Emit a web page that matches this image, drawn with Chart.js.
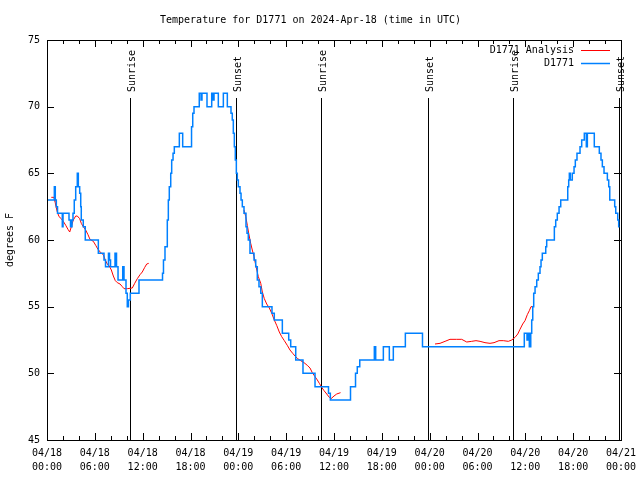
<!DOCTYPE html>
<html>
<head>
<meta charset="utf-8">
<script src="https://cdn.jsdelivr.net/npm/chart.js@4/dist/chart.umd.min.js"></script>
<style>
  html, body { margin: 0; padding: 0; background: #fff; }
  canvas { display: block; }
</style>
</head>
<body>
<canvas id="chart" width="640" height="480"></canvas>
<script>
// hours since 04/18 00:00 UTC
const obsHours = [0.00, 0.92, 1.04, 1.17, 1.32, 1.92, 2.01, 2.76, 2.95, 3.14, 3.26, 3.42, 3.60, 3.80, 3.93, 4.10, 4.23, 4.30, 4.55, 4.80,
  6.44, 7.15, 7.34, 7.71, 7.84, 7.97, 8.53, 8.72, 8.91, 9.50, 9.66, 9.91, 10.07, 10.22, 10.45, 11.54,
  14.49, 14.61, 14.80, 15.09, 15.22, 15.34, 15.52, 15.64, 15.81, 15.97, 16.60, 17.02, 18.13, 18.28, 18.44,
  19.10, 19.32, 19.44, 20.07, 20.66, 20.82, 20.95, 21.49, 22.12, 22.62, 23.08, 23.24, 23.37, 23.50, 23.62, 23.75, 23.87,
  24.00, 24.21, 24.34, 24.50, 24.71, 24.96, 25.09, 25.25, 25.46, 25.97, 26.18, 26.38, 26.59, 26.81, 27.01,
  28.22, 28.51, 29.52, 30.32, 30.57, 31.20, 32.11, 33.62, 35.31, 35.54, 38.07, 38.70, 38.92, 39.23,
  41.06, 41.23, 42.19, 42.94, 43.44, 44.95, 47.10, 59.87, 60.21, 60.34, 60.50, 60.68, 60.80, 60.93, 61.05,
  61.22, 61.43, 61.63, 61.84, 61.97, 62.13, 62.56, 62.68, 63.64, 63.81, 64.01, 64.23, 64.44, 65.32, 65.44,
  65.52, 65.64, 65.89, 66.11, 66.27, 66.48, 66.86, 67.07, 67.40, 67.65, 67.78, 68.65, 69.28, 69.49, 69.66,
  69.87, 70.29, 70.46, 70.59, 71.21, 71.34, 71.59, 71.71, 71.82];
const obsTemps = [63, 64, 63, 62.5, 62, 61, 62, 61.5, 61, 61.5, 62, 63, 64, 65, 64, 63.5, 62.5, 61.5, 61, 60,
  59, 58.5, 58, 59, 58.5, 58, 59, 58, 57, 58, 57, 56, 55, 55.5, 56, 57,
  57.5, 58.5, 59.5, 61.5, 63, 64, 65, 66, 66.5, 67, 68, 67, 68.5, 69.5, 70,
  71, 70.5, 71, 70, 71, 70.5, 71, 70, 71, 70, 69.5, 69, 68, 67, 66, 65, 64.5,
  64, 63.5, 63, 62.5, 62, 61, 60.5, 60, 59, 58.5, 58, 57, 56.5, 56, 55,
  54.5, 54, 53, 52.5, 52, 51, 50, 49, 48.5, 48, 49, 50, 50.5, 51,
  52, 51, 52, 51, 52, 53, 52, 53, 52.5, 53, 52, 53, 54, 55, 56,
  56.5, 57, 57.5, 58, 58.5, 59, 59.5, 60, 61, 61.5, 62, 62.5, 63, 64, 64.5,
  65, 64.5, 65, 65.5, 66, 66.5, 67, 67.5, 68, 67, 68, 67, 66.5, 66, 65.5,
  65, 64.5, 64, 63, 62.5, 62, 61.5, 61, 61];

// analysis runs (null marks a gap between runs)
const anaHours = [0.54, 0.88, 1.00, 1.13, 1.29, 1.51, 1.79, 2.04, 2.35, 2.63, 2.85, 3.05, 3.30, 3.60, 3.80, 4.10, 4.30, 4.55,
  4.85, 5.14, 5.39, 5.81, 6.11, 6.40, 6.74, 7.06, 7.31, 7.56, 7.81, 8.07, 8.32, 8.57, 8.82, 9.16, 9.45, 9.66,
  10.07, 10.70, 11.00, 11.33, 11.67, 11.95, 12.26, 12.51, 12.76,
  18.0,
  24.71, 24.93, 25.13, 25.30, 25.55, 25.75, 25.97, 26.22, 26.51, 26.81, 27.01, 27.26, 27.56, 27.89, 28.19, 28.51,
  28.81, 29.14, 29.44, 29.77, 30.14, 30.48, 30.82, 31.11, 31.45, 31.82, 32.24, 32.65, 32.99, 33.28, 33.62, 33.91,
  34.16, 34.46, 34.75, 35.09, 35.41, 35.63, 36.00, 36.34, 36.82,
  42.0,
  48.67, 49.30, 49.93, 50.55, 51.39, 52.02, 52.65, 53.27, 53.81, 54.32, 54.94, 55.57, 56.07, 56.70, 57.24, 57.87,
  58.29, 58.71, 59.05, 59.33, 59.67, 59.96, 60.25, 60.50, 60.71, 60.93];
const anaTemps = [63.2, 63.2, 62.9, 62.5, 62.1, 61.75, 61.6, 61.4, 61.1, 60.8, 60.6, 61.0, 61.5, 61.8, 61.8, 61.6, 61.25, 61.0,
  60.75, 60.4, 60.05, 59.9, 59.6, 59.3, 59.05, 58.9, 58.5, 58.2, 58.05, 57.75, 57.3, 56.95, 56.8, 56.7, 56.5, 56.35,
  56.35, 56.4, 56.75, 57.1, 57.4, 57.6, 57.95, 58.2, 58.25,
  null,
  62.25, 61.75, 61.1, 60.5, 59.75, 59.25, 58.75, 58.0, 57.25, 56.75, 56.1, 55.6, 55.2, 54.9, 54.5, 54.0,
  53.6, 53.1, 52.75, 52.45, 52.1, 51.75, 51.5, 51.3, 51.1, 50.95, 50.8, 50.6, 50.4, 50.05, 49.75, 49.5,
  49.25, 48.95, 48.7, 48.45, 48.2, 48.1, 48.3, 48.45, 48.55,
  null,
  52.2, 52.25, 52.4, 52.55, 52.55, 52.55, 52.35, 52.4, 52.45, 52.4, 52.3, 52.25, 52.3, 52.45, 52.45, 52.4,
  52.5, 52.7, 52.95, 53.3, 53.7, 53.95, 54.4, 54.7, 55.0, 55.0];

const sunHours = [10.45, 23.75, 34.42, 47.84, 58.5, 71.8];
const sunLabels = ['Sunrise', 'Sunset', 'Sunrise', 'Sunset', 'Sunrise', 'Sunset'];

const xTickDates = ['04/18', '04/18', '04/18', '04/18', '04/19', '04/19', '04/19', '04/19',
  '04/20', '04/20', '04/20', '04/20', '04/21'];
const xTickTimes = ['00:00', '06:00', '12:00', '18:00', '00:00', '06:00', '12:00', '18:00',
  '00:00', '06:00', '12:00', '18:00', '00:00'];

const FONT = 'DejaVu Sans Mono';

const toPoints = (xs, ys) => xs.map((x, i) => ({ x: x, y: ys[i] }));

// frame and inward tick marks like gnuplot
const framePlugin = {
  id: 'frame',
  afterDraw(chart) {
    const { ctx, chartArea: a, scales } = chart;
    ctx.save();
    ctx.strokeStyle = '#000';
    ctx.lineWidth = 1;
    ctx.strokeRect(Math.round(a.left) + 0.5, Math.round(a.top) + 0.5,
      Math.round(a.right - a.left), Math.round(a.bottom - a.top));
    ctx.beginPath();
    scales.x.ticks.forEach(t => {
      const x = Math.round(scales.x.getPixelForValue(t.value)) + 0.5;
      const len = t.value % 6 === 0 ? 7 : 4;
      ctx.moveTo(x, a.bottom); ctx.lineTo(x, a.bottom - len);
      ctx.moveTo(x, a.top); ctx.lineTo(x, a.top + len);
    });
    scales.y.ticks.forEach(t => {
      const y = Math.round(scales.y.getPixelForValue(t.value)) + 0.5;
      ctx.moveTo(a.left, y); ctx.lineTo(a.left + 7, y);
      ctx.moveTo(a.right, y); ctx.lineTo(a.right - 7, y);
    });
    ctx.stroke();
    ctx.restore();
  }
};

// sunrise / sunset markers
const sunPlugin = {
  id: 'sun',
  beforeDatasetsDraw(chart) {
    const { ctx, chartArea: a, scales } = chart;
    ctx.save();
    ctx.strokeStyle = '#000';
    ctx.lineWidth = 1;
    ctx.fillStyle = '#000';
    ctx.font = '10px "' + FONT + '"';
    sunHours.forEach((h, i) => {
      const x = Math.round(scales.x.getPixelForValue(h)) + 0.5;
      ctx.beginPath();
      ctx.moveTo(x, a.top + 58);
      ctx.lineTo(x, a.bottom);
      ctx.stroke();
      ctx.save();
      ctx.translate(x + 2, a.top + 52);
      ctx.rotate(-Math.PI / 2);
      ctx.textAlign = 'left';
      ctx.textBaseline = 'middle';
      ctx.fillText(sunLabels[i], 0, 0);
      ctx.restore();
    });
    ctx.restore();
  }
};

// key in the top right corner: text then line sample
const keyPlugin = {
  id: 'key',
  afterDraw(chart) {
    const { ctx, chartArea: a } = chart;
    ctx.save();
    ctx.font = '10px "' + FONT + '"';
    ctx.textAlign = 'right';
    ctx.textBaseline = 'middle';
    chart.data.datasets.forEach((ds, i) => {
      const y = a.top + 10 + i * 13;
      ctx.fillStyle = '#000';
      ctx.fillText(ds.label, a.right - 47, y);
      ctx.strokeStyle = ds.borderColor;
      ctx.lineWidth = ds.borderWidth;
      ctx.beginPath();
      ctx.moveTo(a.right - 40, Math.round(y) + 0.5);
      ctx.lineTo(a.right - 11, Math.round(y) + 0.5);
      ctx.stroke();
    });
    ctx.restore();
  }
};

new Chart(document.getElementById('chart'), {
  type: 'line',
  data: {
    datasets: [
      {
        label: 'D1771 Analysis',
        data: toPoints(anaHours, anaTemps),
        borderColor: '#ff0000',
        borderWidth: 1,
        pointRadius: 0,
        spanGaps: false,
        tension: 0,
        order: 1
      },
      {
        label: 'D1771',
        data: toPoints(obsHours, obsTemps),
        borderColor: '#0080ff',
        borderWidth: 1.5,
        pointRadius: 0,
        stepped: 'before',
        tension: 0,
        order: 0
      }
    ]
  },
  options: {
    responsive: false,
    devicePixelRatio: 1,
    animation: false,
    layout: { padding: { left: 0, right: 19, top: 0, bottom: 0 } },
    plugins: {
      legend: { display: false },
      tooltip: { enabled: false },
      title: {
        display: true,
        text: 'Temperature for D1771 on 2024-Apr-18 (time in UTC)',
        color: '#000',
        font: { family: FONT, size: 10, weight: 'normal', lineHeight: 1.2 },
        padding: { top: 14, bottom: 14 }
      }
    },
    scales: {
      x: {
        type: 'linear',
        min: 0,
        max: 72,
        border: { display: false },
        grid: { display: false, drawTicks: false },
        afterFit: (scale) => {
          scale.height = 40;
          scale.paddingLeft = 0;
          scale.paddingRight = 0;
        },
        ticks: {
          stepSize: 2,
          autoSkip: false,
          maxRotation: 0,
          padding: 6,
          color: '#000',
          font: { family: FONT, size: 10, lineHeight: 1.4 },
          callback: (v) => {
            if (v % 6 !== 0) return '';
            const k = v / 6;
            return [xTickDates[k], xTickTimes[k]];
          }
        }
      },
      y: {
        min: 45,
        max: 75,
        border: { display: false },
        grid: { display: false, drawTicks: false },
        afterFit: (scale) => { scale.width = 47; },
        ticks: {
          stepSize: 5,
          padding: 7,
          color: '#000',
          font: { family: FONT, size: 10 }
        },
        title: {
          display: true,
          text: 'degrees F',
          color: '#000',
          font: { family: FONT, size: 10, lineHeight: 1.2 },
          padding: { top: 4, bottom: 0 }
        }
      }
    }
  },
  plugins: [framePlugin, sunPlugin, keyPlugin]
});
</script>
</body>
</html>
